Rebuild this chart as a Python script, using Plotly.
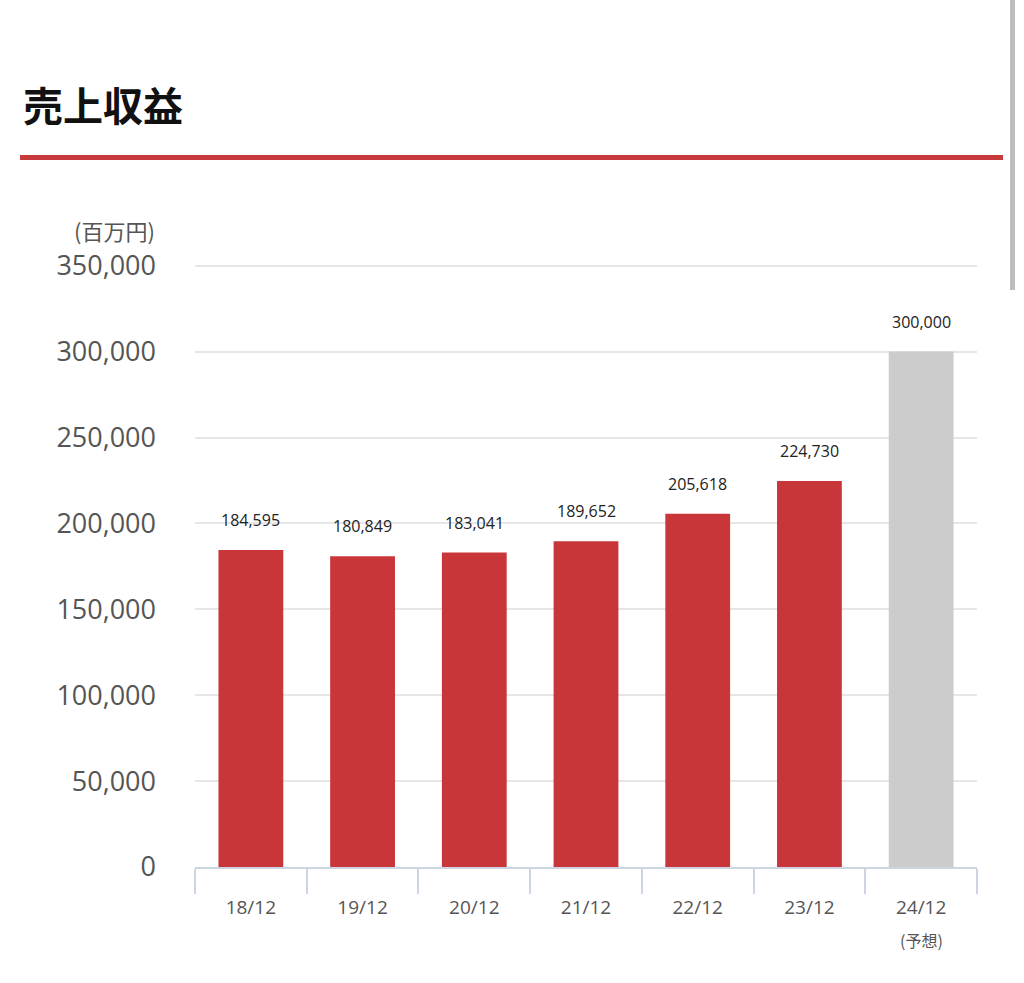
import plotly.graph_objects as go

categories = ["18/12", "19/12", "20/12", "21/12", "22/12", "23/12", "24/12"]
tick_labels = ["18/12", "19/12", "20/12", "21/12", "22/12", "23/12", "24/12"]
forecast_note = "(予想)"
values = [184595, 180849, 183041, 189652, 205618, 224730, 300000]
bar_colors = ["#c9363a"] * 6 + ["#cccccc"]
y_ticks = [0, 50000, 100000, 150000, 200000, 250000, 300000, 350000]

W, H = 1024, 983
L, R, T, B = 195, 47, 264, 116
PW, PH = W - L - R, H - T - B

def px(x):
    return (x - L) / PW

def py(y):
    return (H - B - y) / PH

FONT = "Noto Sans CJK JP"
NUMFONT = "Open Sans"

fig = go.Figure()
fig.add_trace(go.Bar(
    x=categories, y=values, marker=dict(color=bar_colors, line=dict(width=0)),
    width=0.58, hoverinfo="skip",
))

annotations = []
for c, v in zip(categories, values):
    annotations.append(dict(
        x=c, y=v, xref="x", yref="y", text=f"{v:,}", showarrow=False,
        yanchor="bottom", yshift=17, font=dict(family=NUMFONT, size=16, color="#222222"),
    ))

annotations.append(dict(
    x=categories[-1], y=py(940), xref="x", yref="paper", text=forecast_note,
    showarrow=False, xanchor="center", yanchor="middle",
    font=dict(family=FONT, size=16, color="#555555"),
))
annotations.append(dict(
    x=px(21), y=py(104), xref="paper", yref="paper", text="<b>売上収益</b>",
    showarrow=False, xanchor="left", yanchor="middle",
    font=dict(family=FONT, size=40, color="#111111"),
))
annotations.append(dict(
    x=px(157), y=py(230), xref="paper", yref="paper", text="(百万円)",
    showarrow=False, xanchor="right", yanchor="middle",
    font=dict(family=FONT, size=22, color="#555555"),
))

shapes = [
    dict(type="rect", xref="paper", yref="paper", x0=px(20), x1=px(1003),
         y0=py(160), y1=py(155), fillcolor="#c8393b", line=dict(width=0)),
    dict(type="rect", xref="paper", yref="paper", x0=px(1010), x1=px(1015),
         y0=py(290), y1=py(0), fillcolor="#bdbdbd", line=dict(width=0)),
]

fig.update_layout(
    width=W, height=H, margin=dict(l=L, r=R, t=T, b=B),
    paper_bgcolor="white", plot_bgcolor="white", showlegend=False,
    annotations=annotations, shapes=shapes, bargap=0.42,
    font=dict(family=FONT),
)
fig.update_xaxes(
    type="category", tickvals=categories, ticktext=tick_labels,
    showline=True, linecolor="#cdd5e3", linewidth=2,
    ticks="outside", tickson="boundaries", ticklen=25, tickcolor="#cdd5e3", tickwidth=2,
    tickfont=dict(family=NUMFONT, size=19, color="#555555"), showgrid=False,
    ticklabelstandoff=22,
)
fig.update_yaxes(
    range=[0, 351000], tickvals=y_ticks, ticktext=[f"{t:,}" for t in y_ticks],
    showgrid=True, gridcolor="#e6e6e6", gridwidth=2, zeroline=False,
    tickfont=dict(family=NUMFONT, size=27, color="#555555"), ticks="", ticklabelstandoff=38,
)

fig.write_html("out.html")
